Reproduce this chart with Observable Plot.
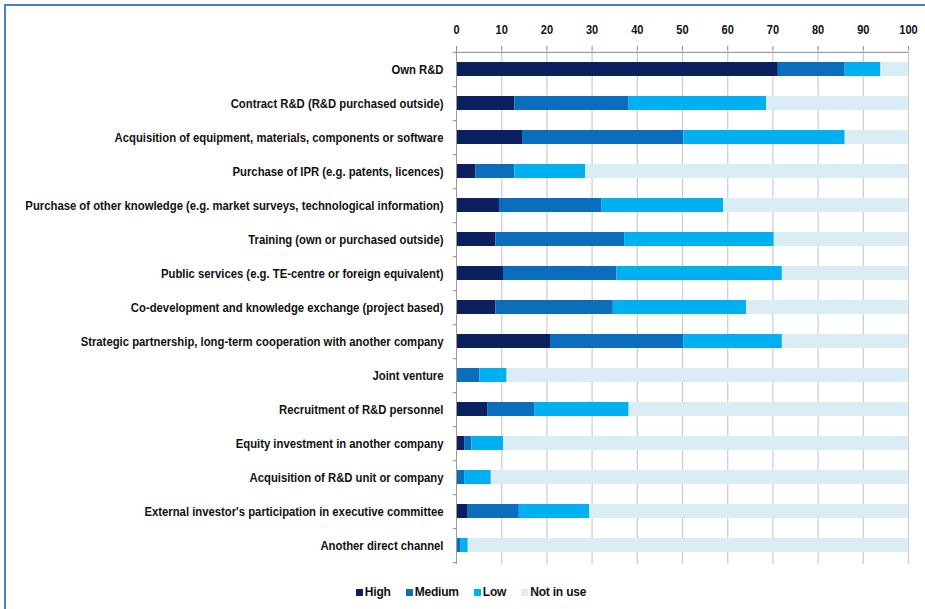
<!DOCTYPE html>
<html>
<head>
<meta charset="utf-8">
<script src="https://cdn.jsdelivr.net/npm/d3@7"></script>
<script src="https://cdn.jsdelivr.net/npm/@observablehq/plot@0.6"></script>
<style>
  html, body { margin: 0; padding: 0; background: #fff; }
  #wrap { position: relative; width: 925px; height: 609px; overflow: hidden; }
  #frame { position: absolute; left: 4px; top: 4px; width: 940px; height: 640px;
           border-left: 2px solid #4f81bd; border-top: 2px solid #4f81bd; }
  #chart { position: absolute; left: 0; top: 0; }
  #chart svg { overflow: visible; }
  #chart svg text { font-family: "Liberation Sans", Arial, sans-serif; font-weight: bold; fill: #111; }
  #legend { position: absolute; left: 0; top: 585px; width: 925px; display: flex; justify-content: center; padding-left: 32px; box-sizing: border-box; }
  #legend * { font-family: "Liberation Sans", Arial, sans-serif !important; font-weight: bold !important; font-size: 12px !important; color: #111 !important; }
  #legend div { margin: 0 !important; min-height: 0 !important; }
  #legend span { margin-right: 15px !important; letter-spacing: -0.2px; }
  #legend svg { margin-right: 2px !important; }
</style>
</head>
<body>
<div id="wrap">
  <div id="frame"></div>
  <div id="chart"></div>
  <div id="legend"></div>
</div>
<script>
const categories = [
  "Own R&D",
  "Contract R&D (R&D purchased outside)",
  "Acquisition of equipment, materials, components or software",
  "Purchase of IPR (e.g. patents, licences)",
  "Purchase of other knowledge (e.g. market surveys, technological information)",
  "Training (own or purchased outside)",
  "Public services (e.g. TE-centre or foreign equivalent)",
  "Co-development and knowledge exchange (project based)",
  "Strategic partnership, long-term cooperation with another company",
  "Joint venture",
  "Recruitment of R&D personnel",
  "Equity investment in another company",
  "Acquisition of R&D unit or company",
  "External investor's participation in executive committee",
  "Another direct channel"
];
const levels = ["High", "Medium", "Low", "Not in use"];
const high     = [71.2, 12.9, 14.6,  4.3,  9.5,  8.7, 10.4,  8.7, 20.8,  0.0,  7.0,  1.8,  0.0,  2.6,  0.0];
const medium   = [14.8, 25.3, 35.7,  8.6, 22.6, 28.5, 25.1, 26.0, 29.5,  5.2, 10.4,  1.6,  1.8, 11.3,  0.9];
const low      = [ 7.9, 30.4, 35.7, 15.7, 27.0, 33.1, 36.6, 29.5, 21.8,  6.0, 20.8,  7.0,  5.9, 15.6,  1.7];
const notInUse = [ 6.1, 31.4, 14.0, 71.4, 40.9, 29.7, 27.9, 35.8, 27.9, 88.8, 61.8, 89.6, 92.3, 70.5, 97.4];
const xTicks = [0, 10, 20, 30, 40, 50, 60, 70, 80, 90, 100];
const colors = ["#0c1f5e", "#0a6ebd", "#00b0f0", "#dbedf4"];

const series = [high, medium, low, notInUse];
const data = categories.flatMap((c, i) => levels.map((l, j) => ({category: c, level: l, value: series[j][i]})));

const W = 925, H = 574, mT = 49, mB = 10, mL = 456, mR = 17;
const step = (H - mT - mB) / categories.length;

const plot = Plot.plot({
  width: W, height: H,
  marginLeft: mL, marginRight: mR, marginTop: mT, marginBottom: mB,
  x: {domain: [0, 100]},
  y: {domain: categories, paddingInner: 0.6, paddingOuter: 0.3},
  color: {domain: levels, range: colors},
  marks: [
    Plot.ruleX(xTicks.slice(1), {stroke: "#cfcfcf", strokeWidth: 1.3}),
    Plot.barX(data, Plot.stackX({x: "value", y: "category", fill: "level"})),
    Plot.ruleX([0], {stroke: "#9a9a9a"}),
    Plot.ruleY([categories[0]], {y: d => d, x1: -0.7, x2: 100, dy: -step / 2, stroke: "#8a8a8a"}),
    Plot.ruleY(categories, {y: d => d, x1: -0.7, x2: 0, dy: step / 2, stroke: "#8a8a8a"}),
    Plot.axisX({anchor: "top", ticks: xTicks, tickSize: 4, tickPadding: 12, fontSize: 13, stroke: "#8a8a8a", label: null}),
    Plot.axisY({tickSize: 0, tickPadding: 13, fontSize: 13, label: null})
  ]
});
document.getElementById("chart").appendChild(plot);

// condense tick labels horizontally (narrow bold face in the reference)
function condense(sel, k) {
  d3.select(plot).selectAll(sel).each(function() {
    const t = d3.select(this);
    const tr = t.attr("transform");
    if (tr) t.attr("transform", tr + ` scale(${k},1)`);
  });
}
condense("g[aria-label='y-axis tick label'] text", 0.87);
condense("g[aria-label='x-axis tick label'] text", 0.85);

const leg = plot.legend("color", {swatchSize: 7, className: "lg"});
document.getElementById("legend").appendChild(leg);
</script>
</body>
</html>
